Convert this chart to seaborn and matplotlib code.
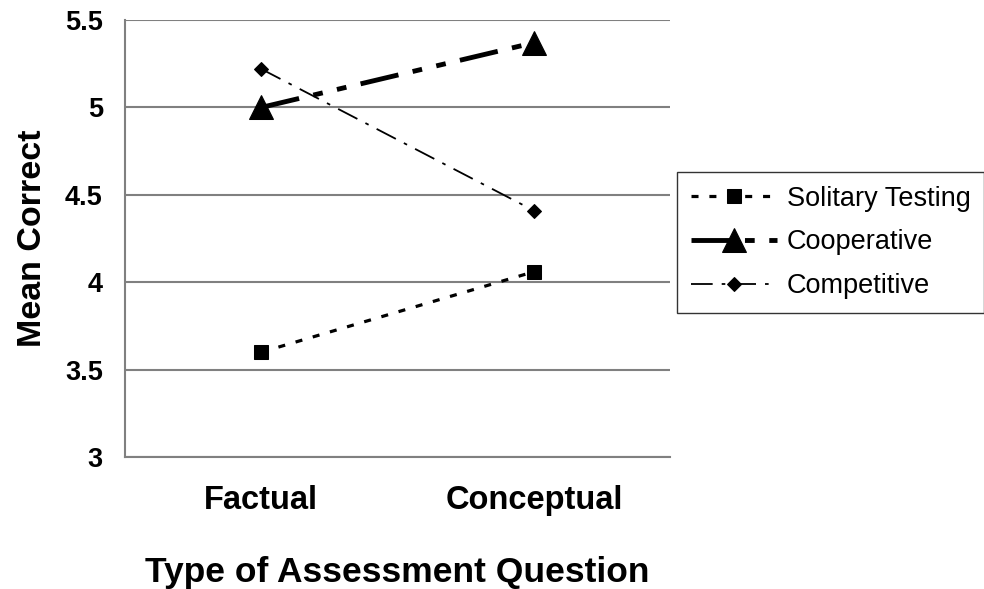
import pandas as pd
import matplotlib
matplotlib.use("Agg")
import matplotlib.pyplot as plt
import seaborn as sns

# data
question_types = ["Factual", "Conceptual"]
solitary = [3.60, 4.06]
cooperative = [5.00, 5.37]
competitive = [5.22, 4.41]
groups = ["Solitary Testing", "Cooperative", "Competitive"]

veri = pd.DataFrame({
    "type": question_types * 3,
    "mean": solitary + cooperative + competitive,
    "group": [g for g in groups for _ in question_types],
})

sns.set_style("white")
plt.rcParams["font.family"] = ["Liberation Sans", "DejaVu Sans"]
plt.rcParams["text.color"] = "black"
plt.rcParams["axes.labelcolor"] = "black"
plt.rcParams["xtick.color"] = "black"
plt.rcParams["ytick.color"] = "black"

fig = plt.figure(figsize=(9.84, 5.89), dpi=100)
ax = fig.add_axes([0.127, 0.224, 0.554, 0.742])

styles = {
    "Solitary Testing": dict(marker="s", markersize=9.5, linewidth=2.3, dashes=(2.2, 3.4)),
    "Cooperative": dict(marker="^", markersize=17, linewidth=3.5, dashes=(8, 3, 2, 3, 2, 3)),
    "Competitive": dict(marker="D", markersize=7.5, linewidth=1.3, dashes=(12, 5, 2, 5)),
}

for g in groups:
    sub = veri[veri["group"] == g]
    st = styles[g]
    sns.lineplot(x="type", y="mean", data=sub, ax=ax, color="black",
                 marker=st["marker"], markersize=st["markersize"],
                 linewidth=st["linewidth"], dashes=False, label=g,
                 markeredgecolor="black", markerfacecolor="black")
    ax.lines[-1].set_dashes(st["dashes"])

ax.set_xlim(-0.5, 1.5)
ax.set_ylim(3, 5.5)
ax.set_yticks([3, 3.5, 4, 4.5, 5, 5.5])
ax.set_yticklabels(["3", "3.5", "4", "4.5", "5", "5.5"])
ax.yaxis.grid(True, color="#808080", linewidth=1.5)
ax.set_axisbelow(True)

ax.set_xticks([0, 1])
ax.set_xticks([-0.5, 0.5, 1.5], minor=True)
ax.tick_params(axis="x", which="major", length=0, pad=20, labelsize=23.5)
ax.tick_params(axis="x", which="minor", length=7, width=1.2, color="#808080", direction="out")
ax.tick_params(axis="y", length=7, width=1.2, color="#808080", labelcolor="black",
               direction="out", labelsize=19.5, pad=9)
for lab in ax.get_xticklabels() + ax.get_yticklabels():
    lab.set_fontweight("bold")

for s in ["top", "right"]:
    ax.spines[s].set_visible(False)
for s in ["left", "bottom"]:
    ax.spines[s].set_color("#808080")
    ax.spines[s].set_linewidth(1.5)

ax.set_xlabel("Type of Assessment Question", fontsize=25.5, fontweight="bold", labelpad=29)
ax.set_ylabel("Mean Correct", fontsize=24.5, fontweight="bold", labelpad=12)

leg = ax.legend(loc="upper left", bbox_to_anchor=(0.688, 0.708), bbox_transform=fig.transFigure,
                fontsize=19.5, frameon=True, fancybox=False, edgecolor="black",
                handlelength=3.2, borderpad=0.5, labelspacing=0.66, handletextpad=0.35,
                borderaxespad=0)
leg.get_frame().set_linewidth(1.0)

fig.savefig("out.png", dpi=100)
